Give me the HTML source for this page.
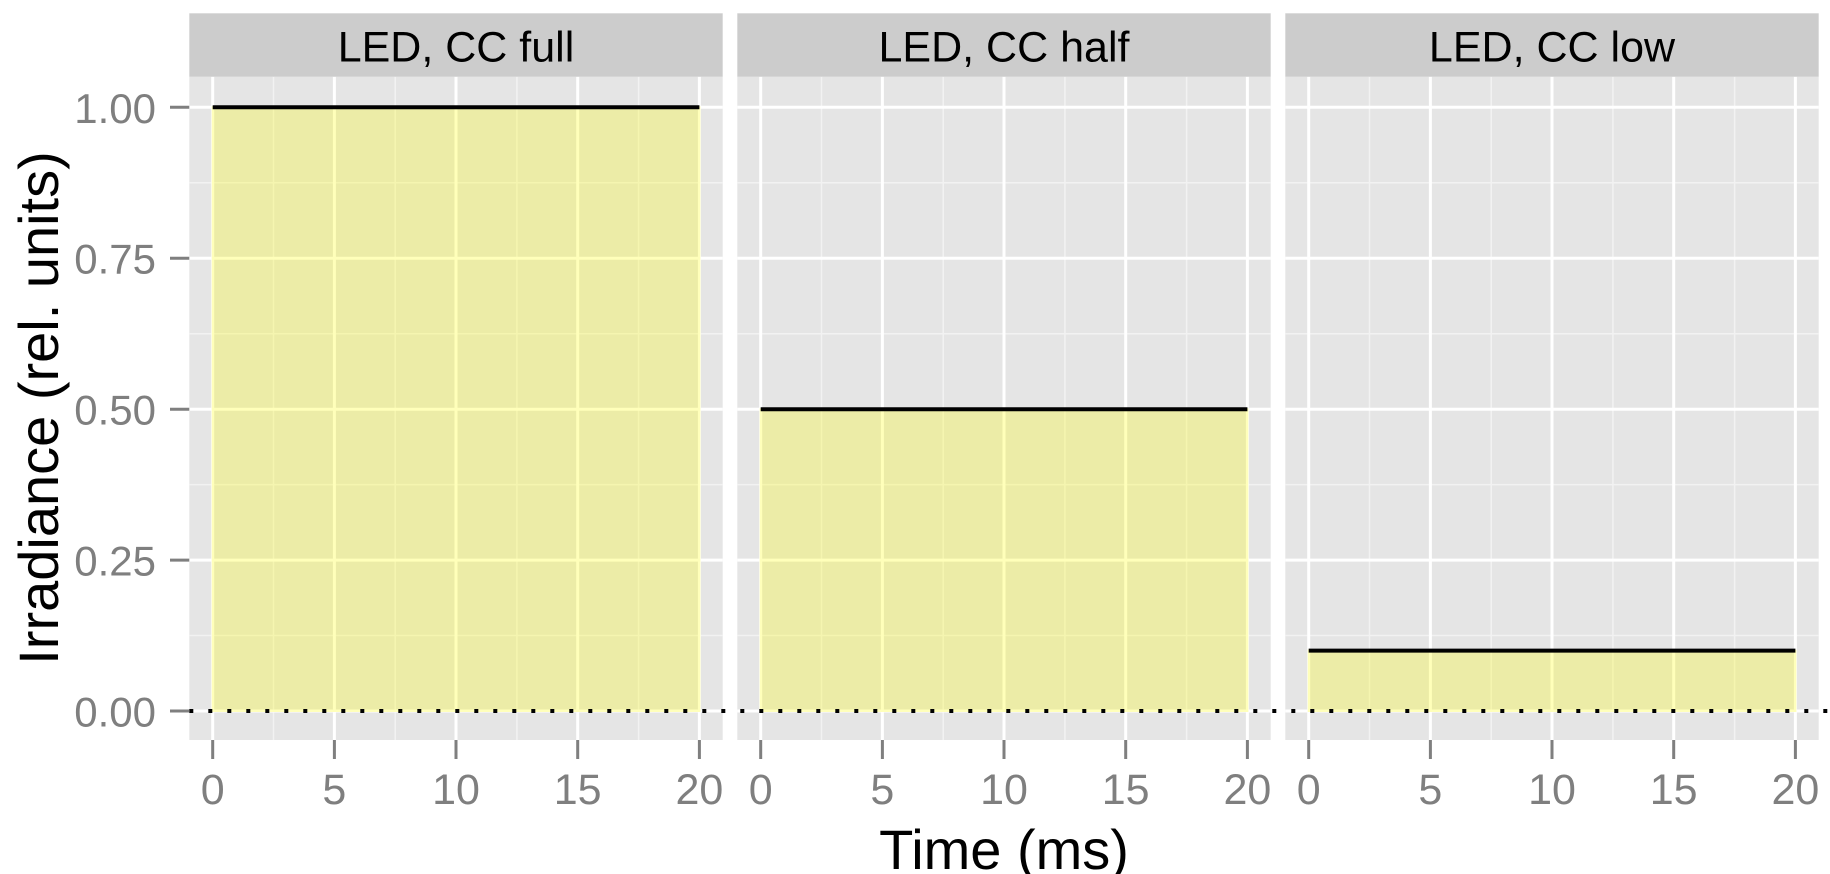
<!DOCTYPE html>
<html><head><meta charset="utf-8"><style>html,body{margin:0;padding:0;background:#fff}svg{display:block}text{font-family:"Liberation Sans",sans-serif}</style></head>
<body>
<svg width="1830" height="874" viewBox="0 0 1830 874" xmlns="http://www.w3.org/2000/svg">
<defs>
<g id="grid">
  <rect x="0" y="76.7" width="533.4" height="663.3" fill="#e5e5e5"/>
  <g stroke="#f2f2f2" stroke-width="1.5">
    <line x1="0" x2="533.4" y1="635.5" y2="635.5"/>
    <line x1="0" x2="533.4" y1="484.6" y2="484.6"/>
    <line x1="0" x2="533.4" y1="333.7" y2="333.7"/>
    <line x1="0" x2="533.4" y1="182.8" y2="182.8"/>
    <line y1="76.7" y2="740" x1="84.2" x2="84.2"/>
    <line y1="76.7" y2="740" x1="205.9" x2="205.9"/>
    <line y1="76.7" y2="740" x1="327.6" x2="327.6"/>
    <line y1="76.7" y2="740" x1="449.3" x2="449.3"/>
  </g>
  <g stroke="#ffffff" stroke-width="3">
    <line x1="0" x2="533.4" y1="711" y2="711"/>
    <line x1="0" x2="533.4" y1="560.1" y2="560.1"/>
    <line x1="0" x2="533.4" y1="409.2" y2="409.2"/>
    <line x1="0" x2="533.4" y1="258.2" y2="258.2"/>
    <line x1="0" x2="533.4" y1="107.3" y2="107.3"/>
    <line y1="76.7" y2="740" x1="23.4" x2="23.4"/>
    <line y1="76.7" y2="740" x1="145.1" x2="145.1"/>
    <line y1="76.7" y2="740" x1="266.7" x2="266.7"/>
    <line y1="76.7" y2="740" x1="388.4" x2="388.4"/>
    <line y1="76.7" y2="740" x1="510.1" x2="510.1"/>
  </g>
  <rect x="0" y="13.3" width="533.4" height="63.4" fill="#cccccc"/>
  <g stroke="#7f7f7f" stroke-width="3">
    <line y1="740" y2="759" x1="23.4" x2="23.4"/>
    <line y1="740" y2="759" x1="145.1" x2="145.1"/>
    <line y1="740" y2="759" x1="266.7" x2="266.7"/>
    <line y1="740" y2="759" x1="388.4" x2="388.4"/>
    <line y1="740" y2="759" x1="510.1" x2="510.1"/>
  </g>
  <g fill="#7f7f7f" font-size="43" text-anchor="middle">
    <text x="23.4" y="804">0</text>
    <text x="145.1" y="804">5</text>
    <text x="266.7" y="804">10</text>
    <text x="388.4" y="804">15</text>
    <text x="510.1" y="804">20</text>
  </g>
</g>
</defs>

<g transform="translate(189.3,0)">
  <use href="#grid"/>
  <rect x="23.4" y="107.3" width="486.7" height="603.7" fill="#ffff00" fill-opacity="0.27" stroke="#ffffbb" stroke-width="2"/>
  <line x1="23.4" x2="510.1" y1="107.3" y2="107.3" stroke="#000" stroke-width="4"/>
  <text x="266.7" y="61.7" font-size="43" text-anchor="middle" fill="#000">LED, CC full</text>
</g>
<g transform="translate(737.3,0)">
  <use href="#grid"/>
  <rect x="23.4" y="409.2" width="486.7" height="301.8" fill="#ffff00" fill-opacity="0.27" stroke="#ffffbb" stroke-width="2"/>
  <line x1="23.4" x2="510.1" y1="409.2" y2="409.2" stroke="#000" stroke-width="4"/>
  <text x="266.7" y="61.7" font-size="43" text-anchor="middle" fill="#000">LED, CC half</text>
</g>
<g transform="translate(1285.3,0)">
  <use href="#grid"/>
  <rect x="23.4" y="650.6" width="486.7" height="60.4" fill="#ffff00" fill-opacity="0.27" stroke="#ffffbb" stroke-width="2"/>
  <line x1="23.4" x2="510.1" y1="650.6" y2="650.6" stroke="#000" stroke-width="4"/>
  <text x="266.7" y="61.7" font-size="43" text-anchor="middle" fill="#000">LED, CC low</text>
</g>

<line x1="189.3" x2="1830" y1="711" y2="711" stroke="#000" stroke-width="4" stroke-dasharray="4 15"/>

<g stroke="#7f7f7f" stroke-width="3">
  <line x1="170" x2="189.3" y1="711" y2="711"/>
  <line x1="170" x2="189.3" y1="560.1" y2="560.1"/>
  <line x1="170" x2="189.3" y1="409.2" y2="409.2"/>
  <line x1="170" x2="189.3" y1="258.2" y2="258.2"/>
  <line x1="170" x2="189.3" y1="107.3" y2="107.3"/>
</g>
<g fill="#7f7f7f" font-size="42" text-anchor="end">
  <text x="156" y="726.5">0.00</text>
  <text x="156" y="575.5">0.25</text>
  <text x="156" y="424.5">0.50</text>
  <text x="156" y="273.5">0.75</text>
  <text x="156" y="123">1.00</text>
</g>

<text x="1004" y="869" font-size="56" text-anchor="middle" fill="#000">Time (ms)</text>
<text transform="translate(58,408) rotate(-90)" font-size="56" text-anchor="middle" fill="#000">Irradiance (rel. units)</text>
</svg>
</body></html>
